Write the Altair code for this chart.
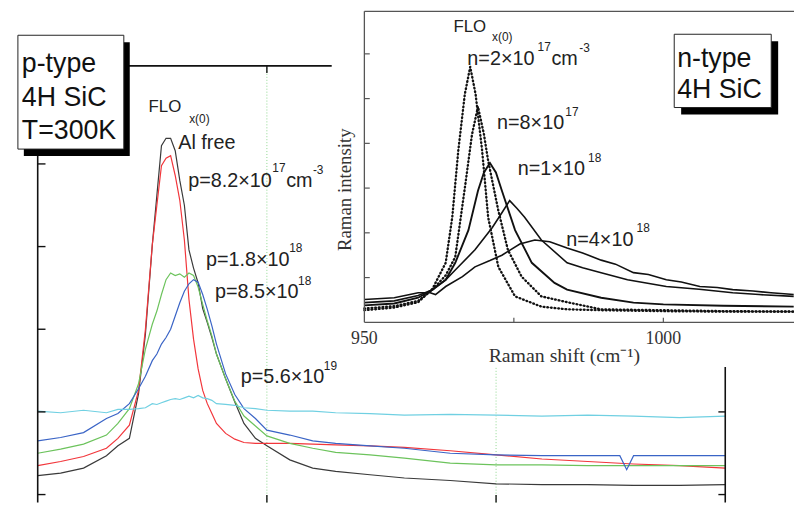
import altair as alt
import pandas as pd

# ---------------- p-type 4H SiC spectra (main panel) ----------------
p_shift = [900, 910, 920, 930, 935, 940, 944, 947, 950, 952,
           954, 956, 958, 960, 962, 964, 966, 968, 970, 972,
           974, 976, 978, 982, 986, 990, 995, 1000, 1010, 1020,
           1030, 1045, 1060, 1080, 1100, 1120, 1140, 1160, 1180, 1200]
p_al_free = [1.23, 1.26, 1.32, 1.47, 1.59, 1.68, 2.22, 2.94, 4.02, 4.62,
             5.22, 5.31, 5.31, 5.16, 4.80, 4.50, 3.96, 3.74, 3.56, 3.25,
             3.08, 2.90, 2.70, 2.40, 2.12, 1.86, 1.68, 1.59, 1.42, 1.32,
             1.28, 1.24, 1.20, 1.17, 1.13, 1.12, 1.12, 1.11, 1.11, 1.12]
p_8_2e17 = [1.35, 1.40, 1.46, 1.56, 1.68, 1.84, 2.26, 3.00, 4.02, 4.50,
            4.98, 5.07, 5.10, 4.86, 4.56, 4.08, 3.36, 2.88, 2.52, 2.26,
            2.10, 1.98, 1.86, 1.74, 1.67, 1.63, 1.62, 1.62, 1.62, 1.61,
            1.60, 1.59, 1.57, 1.53, 1.48, 1.43, 1.40, 1.37, 1.35, 1.32]
p_1_8e18 = [1.50, 1.55, 1.61, 1.72, 1.86, 2.04, 2.34, 2.76, 3.06, 3.22,
            3.42, 3.60, 3.68, 3.65, 3.67, 3.63, 3.68, 3.65, 3.51, 3.30,
            3.10, 2.92, 2.70, 2.40, 2.13, 1.95, 1.83, 1.71, 1.62, 1.56,
            1.51, 1.48, 1.44, 1.38, 1.36, 1.36, 1.35, 1.35, 1.35, 1.35]
p_8_5e18_shift = p_shift[:37] + [1154, 1157, 1160, 1180, 1200]
p_8_5e18 = [1.65, 1.69, 1.75, 1.92, 1.98, 2.10, 2.28, 2.43, 2.62, 2.70,
            2.82, 2.90, 3.00, 3.16, 3.32, 3.46, 3.55, 3.60, 3.57, 3.42,
            3.24, 3.04, 2.82, 2.46, 2.21, 2.04, 1.92, 1.78, 1.72, 1.65,
            1.62, 1.59, 1.56, 1.50, 1.48, 1.47, 1.47,
            1.47, 1.30, 1.47, 1.47, 1.47]
p_5_6e19 = [2.01, 1.99, 2.02, 1.99, 2.03, 2.03, 2.04, 2.05, 2.10, 2.09,
            2.11, 2.13, 2.15, 2.16, 2.15, 2.17, 2.19, 2.17, 2.20, 2.17,
            2.16, 2.14, 2.10, 2.09, 2.08, 2.05, 2.04, 2.02, 2.01, 2.01,
            1.99, 1.98, 1.96, 1.97, 1.96, 1.95, 1.96, 1.95, 1.93, 1.95]
p_series = ["Al free", "p=8.2e17", "p=1.8e18", "p=8.5e18", "p=5.6e19"]
p_colors = ["#3a3a3a", "#f2363b", "#6cc35c", "#3a64c6", "#70d0e2"]

main_yticks = [1, 2, 3, 4, 5]
main_right_yticks = [1, 2]
main_xticks = [1000, 1100]

# ---------------- n-type 4H SiC spectra (inset) ----------------
nA_shift = [950, 955, 959, 961.4, 963.6, 964.7, 965.7, 966.8, 967.7, 968.6,
            969.7, 970.7, 972.4, 975.2, 979.6, 983.9, 989.6, 1000, 1010, 1021.8]
nA = [0.27, 0.33, 0.45, 0.75, 1.33, 2.35, 3.83, 5.10, 5.71, 5.10,
      3.83, 2.35, 1.24, 0.58, 0.35, 0.29, 0.27, 0.25, 0.24, 0.24]
nB_shift = [950, 955, 959, 961.4, 963.6, 965.2, 966.9, 968.0, 969.0, 970.0,
            970.7, 972.4, 974.0, 976.3, 979.6, 983.9, 989.6, 1000, 1010, 1021.8]
nB = [0.31, 0.36, 0.48, 0.73, 1.05, 1.46, 3.10, 4.20, 4.82, 4.20,
      3.61, 2.50, 1.62, 1.02, 0.58, 0.45, 0.29, 0.27, 0.25, 0.24]
nC_shift = [950, 955, 959, 961.4, 963.6, 965.2, 967.4, 969.0, 970.0, 971.0,
            972.0, 973.0, 975.2, 978.0, 981.8, 983.9, 989.6, 995.0, 1000, 1010, 1021.8]
nC = [0.38, 0.42, 0.55, 0.73, 0.95, 1.33, 2.06, 2.94, 3.35, 3.56,
      3.35, 2.94, 2.06, 1.33, 0.88, 0.73, 0.55, 0.44, 0.40, 0.37, 0.35]
nD_shift = [950, 955, 959, 961.4, 963.6, 965.2, 968.5, 971.4, 973.0, 974.3,
            975.5, 976.8, 979.6, 983.9, 986.5, 989.6, 994, 1000.5, 1006, 1011.6, 1016, 1021.8]
nD = [0.44, 0.48, 0.60, 0.73, 0.95, 1.17, 1.62, 2.12, 2.45, 2.72,
      2.55, 2.35, 1.84, 1.33, 1.22, 1.11, 0.95, 0.80, 0.74, 0.66, 0.62, 0.58]
nE_shift = [950, 955, 959, 961.0, 961.9, 963.6, 966.4, 968.5, 971, 973.0,
            976, 978.5, 981, 983.9, 986.5, 989.6, 992, 995.0, 997.5, 1000.5,
            1003, 1006.1, 1009, 1011.6, 1015, 1018, 1021.8]
nE = [0.51, 0.55, 0.66, 0.66, 0.62, 0.80, 1.02, 1.24, 1.38, 1.50,
      1.75, 1.84, 1.80, 1.66, 1.55, 1.39, 1.30, 1.11, 1.07, 0.95,
      0.90, 0.80, 0.78, 0.73, 0.70, 0.66, 0.62]

inset_yticks = [1, 2, 3, 4, 5, 6]
inset_xticks = [975, 1000]
inset_xlabels = [950, 1000]

# ---------------- scales / layout ----------------
W, H = 794, 497
MX = alt.Scale(domain=[887.04, 1230.0], nice=False, zero=False)
MY = alt.Scale(domain=[0.904, 6.856], nice=False, zero=False)
IX = alt.Scale(domain=[890.4, 1021.85], nice=False, zero=False)
IY = alt.Scale(domain=[-4.027, 6.969], nice=False, zero=False)
M_LEFT, M_RIGHT, M_TOP, M_BOT = 900, 1200, 6.186, 0.904
I_LEFT, I_RIGHT, I_TOP = 950, 1021.85, 6.95

one = pd.DataFrame({"a": [0]})
SANS = "Liberation Sans"
SERIF = "Liberation Serif"


def seg_chart(rows, xs, ys, color, width, dash=None):
    kw = dict(color=color, strokeWidth=width)
    if dash:
        kw["strokeDash"] = dash
    return alt.Chart(pd.DataFrame(rows)).mark_rule(**kw).encode(
        x=alt.X("x:Q", scale=xs, axis=None), x2="x2:Q",
        y=alt.Y("y:Q", scale=ys, axis=None), y2="y2:Q")


def label(text, x, y, size, font=SANS, align="left", angle=0, color="#222222"):
    kw = dict(text=text, align=align, baseline="middle", font=font,
              fontSize=size, color=color)
    if angle:
        kw["angle"] = angle
    return alt.Chart(one).mark_text(**kw).encode(
        x=alt.value(x - 8), y=alt.value(y - 8))


def box(x0, y0, x1, y1, dx, dy):
    shadow = alt.Chart(one).mark_rect(color="black").encode(
        x=alt.value(x0 + dx - 8), x2=alt.value(x1 + dx - 8),
        y=alt.value(y0 + dy - 8), y2=alt.value(y1 + dy - 8))
    face = alt.Chart(one).mark_rect(fill="white", stroke="#222222", strokeWidth=1).encode(
        x=alt.value(x0 - 8), x2=alt.value(x1 - 8),
        y=alt.value(y0 - 8), y2=alt.value(y1 - 8))
    return [shadow, face]


# ---------------- main panel ----------------
main_df = pd.concat([
    pd.DataFrame({"shift": p_shift, "I": p_al_free, "series": p_series[0]}),
    pd.DataFrame({"shift": p_shift, "I": p_8_2e17, "series": p_series[1]}),
    pd.DataFrame({"shift": p_shift, "I": p_1_8e18, "series": p_series[2]}),
    pd.DataFrame({"shift": p_8_5e18_shift, "I": p_8_5e18, "series": p_series[3]}),
    pd.DataFrame({"shift": p_shift, "I": p_5_6e19, "series": p_series[4]}),
])

grid = seg_chart([dict(x=v, x2=v, y=M_BOT, y2=M_TOP) for v in main_xticks],
                 MX, MY, "#8fd88f", 1, dash=[1, 2])

curves = alt.Chart(main_df).mark_line(strokeWidth=1.2).encode(
    x=alt.X("shift:Q", scale=MX, axis=None),
    y=alt.Y("I:Q", scale=MY, axis=None),
    color=alt.Color("series:N", scale=alt.Scale(domain=p_series, range=p_colors), legend=None),
)

frame = seg_chart([
    dict(x=M_LEFT, x2=M_LEFT, y=M_BOT, y2=M_TOP),
    dict(x=M_LEFT, x2=M_RIGHT, y=M_TOP, y2=M_TOP),
    dict(x=M_RIGHT, x2=M_RIGHT, y=M_BOT, y2=M_TOP),
], MX, MY, "#111111", 1.6)

ticks = seg_chart(
    [dict(x=M_LEFT, x2=M_LEFT + 3.4, y=v, y2=v) for v in main_yticks]
    + [dict(x=M_RIGHT - 3.0, x2=M_RIGHT, y=v, y2=v) for v in main_right_yticks]
    + [dict(x=v, x2=v, y=M_TOP - 0.085, y2=M_TOP) for v in main_xticks]
    + [dict(x=v, x2=v, y=M_BOT, y2=M_BOT + 0.09) for v in main_xticks],
    MX, MY, "#111111", 1.4)

main_labels = [
    label("FLO", 150, 106, 17),
    label("x(0)", 191, 118, 12),
    label("Al free", 180, 142, 20),
    label("p=8.2×10", 190, 180, 20), label("17", 275, 167, 12),
    label("cm", 289, 180, 20), label("-3", 316, 169, 12),
    label("p=1.8×10", 208, 260, 20), label("18", 292, 248, 12),
    label("p=8.5×10", 217, 292, 20), label("18", 301, 281, 12),
    label("p=5.6×10", 243, 378, 20), label("19", 327, 367, 12),
]

p_box = box(18, 33, 125, 148, 6, 7) + [
    label("p-type", 22, 62, 27, color="#111111"),
    label("4H SiC", 22, 96, 27, color="#111111"),
    label("T=300K", 22, 130, 27, color="#111111"),
]

main_layer = alt.layer(grid, curves, frame, ticks, *p_box)

# ---------------- inset ----------------
inset_bg = alt.Chart(one).mark_rect(color="white").encode(
    x=alt.value(335 - 8), x2=alt.value(W), y=alt.value(0), y2=alt.value(368 - 8))


def inset_line(xs, ys, **kw):
    return alt.Chart(pd.DataFrame({"shift": xs, "I": ys})).mark_line(**kw).encode(
        x=alt.X("shift:Q", scale=IX, axis=None),
        y=alt.Y("I:Q", scale=IY, axis=None))


inset_curves = [
    inset_line(nA_shift, nA, color="#888888", strokeWidth=0.8),
    inset_line(nB_shift, nB, color="#888888", strokeWidth=0.8),
    inset_line(nA_shift, nA, color="#111111", strokeWidth=2.4, strokeDash=[0.5, 3.2], strokeCap="round"),
    inset_line(nB_shift, nB, color="#111111", strokeWidth=2.4, strokeDash=[0.5, 3.2], strokeCap="round"),
    inset_line(nC_shift, nC, color="#111111", strokeWidth=1.9),
    inset_line(nD_shift, nD, color="#111111", strokeWidth=1.6),
    inset_line(nE_shift, nE, color="#111111", strokeWidth=1.6),
]

inset_frame = seg_chart([
    dict(x=I_LEFT, x2=I_LEFT, y=0, y2=I_TOP),
    dict(x=I_LEFT, x2=I_RIGHT, y=0, y2=0),
    dict(x=I_LEFT, x2=I_RIGHT, y=I_TOP, y2=I_TOP),
], IX, IY, "#555555", 1.3)

inset_ticks = seg_chart(
    [dict(x=I_LEFT, x2=I_LEFT + 0.9, y=v, y2=v) for v in inset_yticks]
    + [dict(x=v, x2=v, y=0, y2=0.1) for v in inset_xticks],
    IX, IY, "#555555", 1.2)

inset_xlab = alt.Chart(pd.DataFrame({"v": inset_xlabels, "t": [str(v) for v in inset_xlabels]})).mark_text(
    font=SERIF, fontSize=18, color="#333333", align="center", baseline="middle").encode(
    x=alt.X("v:Q", scale=IX, axis=None), y=alt.value(340 - 8), text="t:N")

inset_labels = [
    label("Raman shift (cm⁻¹)", 570, 357, 20, font=SERIF, align="center", color="#333333"),
    label("Raman intensity", 348, 189, 19, font=SERIF, align="center", angle=270, color="#333333"),
    label("FLO", 458, 25, 17),
    label("x(0)", 497, 35, 12),
    label("n=2×10", 472, 57, 20), label("17", 543, 45, 12),
    label("cm", 557, 57, 20), label("-3", 585, 46, 12),
    label("n=8×10", 502, 122, 20), label("17", 571, 111, 12),
    label("n=1×10", 523, 168, 20), label("18", 594, 157, 12),
    label("n=4×10", 572, 240, 20), label("18", 643, 228, 12),
]

n_box = box(681, 32, 779, 106, 7, 7) + [
    label("n-type", 684, 57, 27, color="#111111"),
    label("4H SiC", 684, 88, 27, color="#111111"),
]

inset_layer = alt.layer(inset_bg, *inset_curves, inset_frame, inset_ticks,
                        inset_xlab, *inset_labels, *n_box, *main_labels)

chart = alt.layer(main_layer, inset_layer).resolve_scale(
    x="independent", y="independent"
).properties(
    width=W, height=H, padding=0, autosize="none", background="white"
).configure_view(strokeWidth=0)

chart.save("out.html", embed_options={"renderer": "svg", "actions": False})
